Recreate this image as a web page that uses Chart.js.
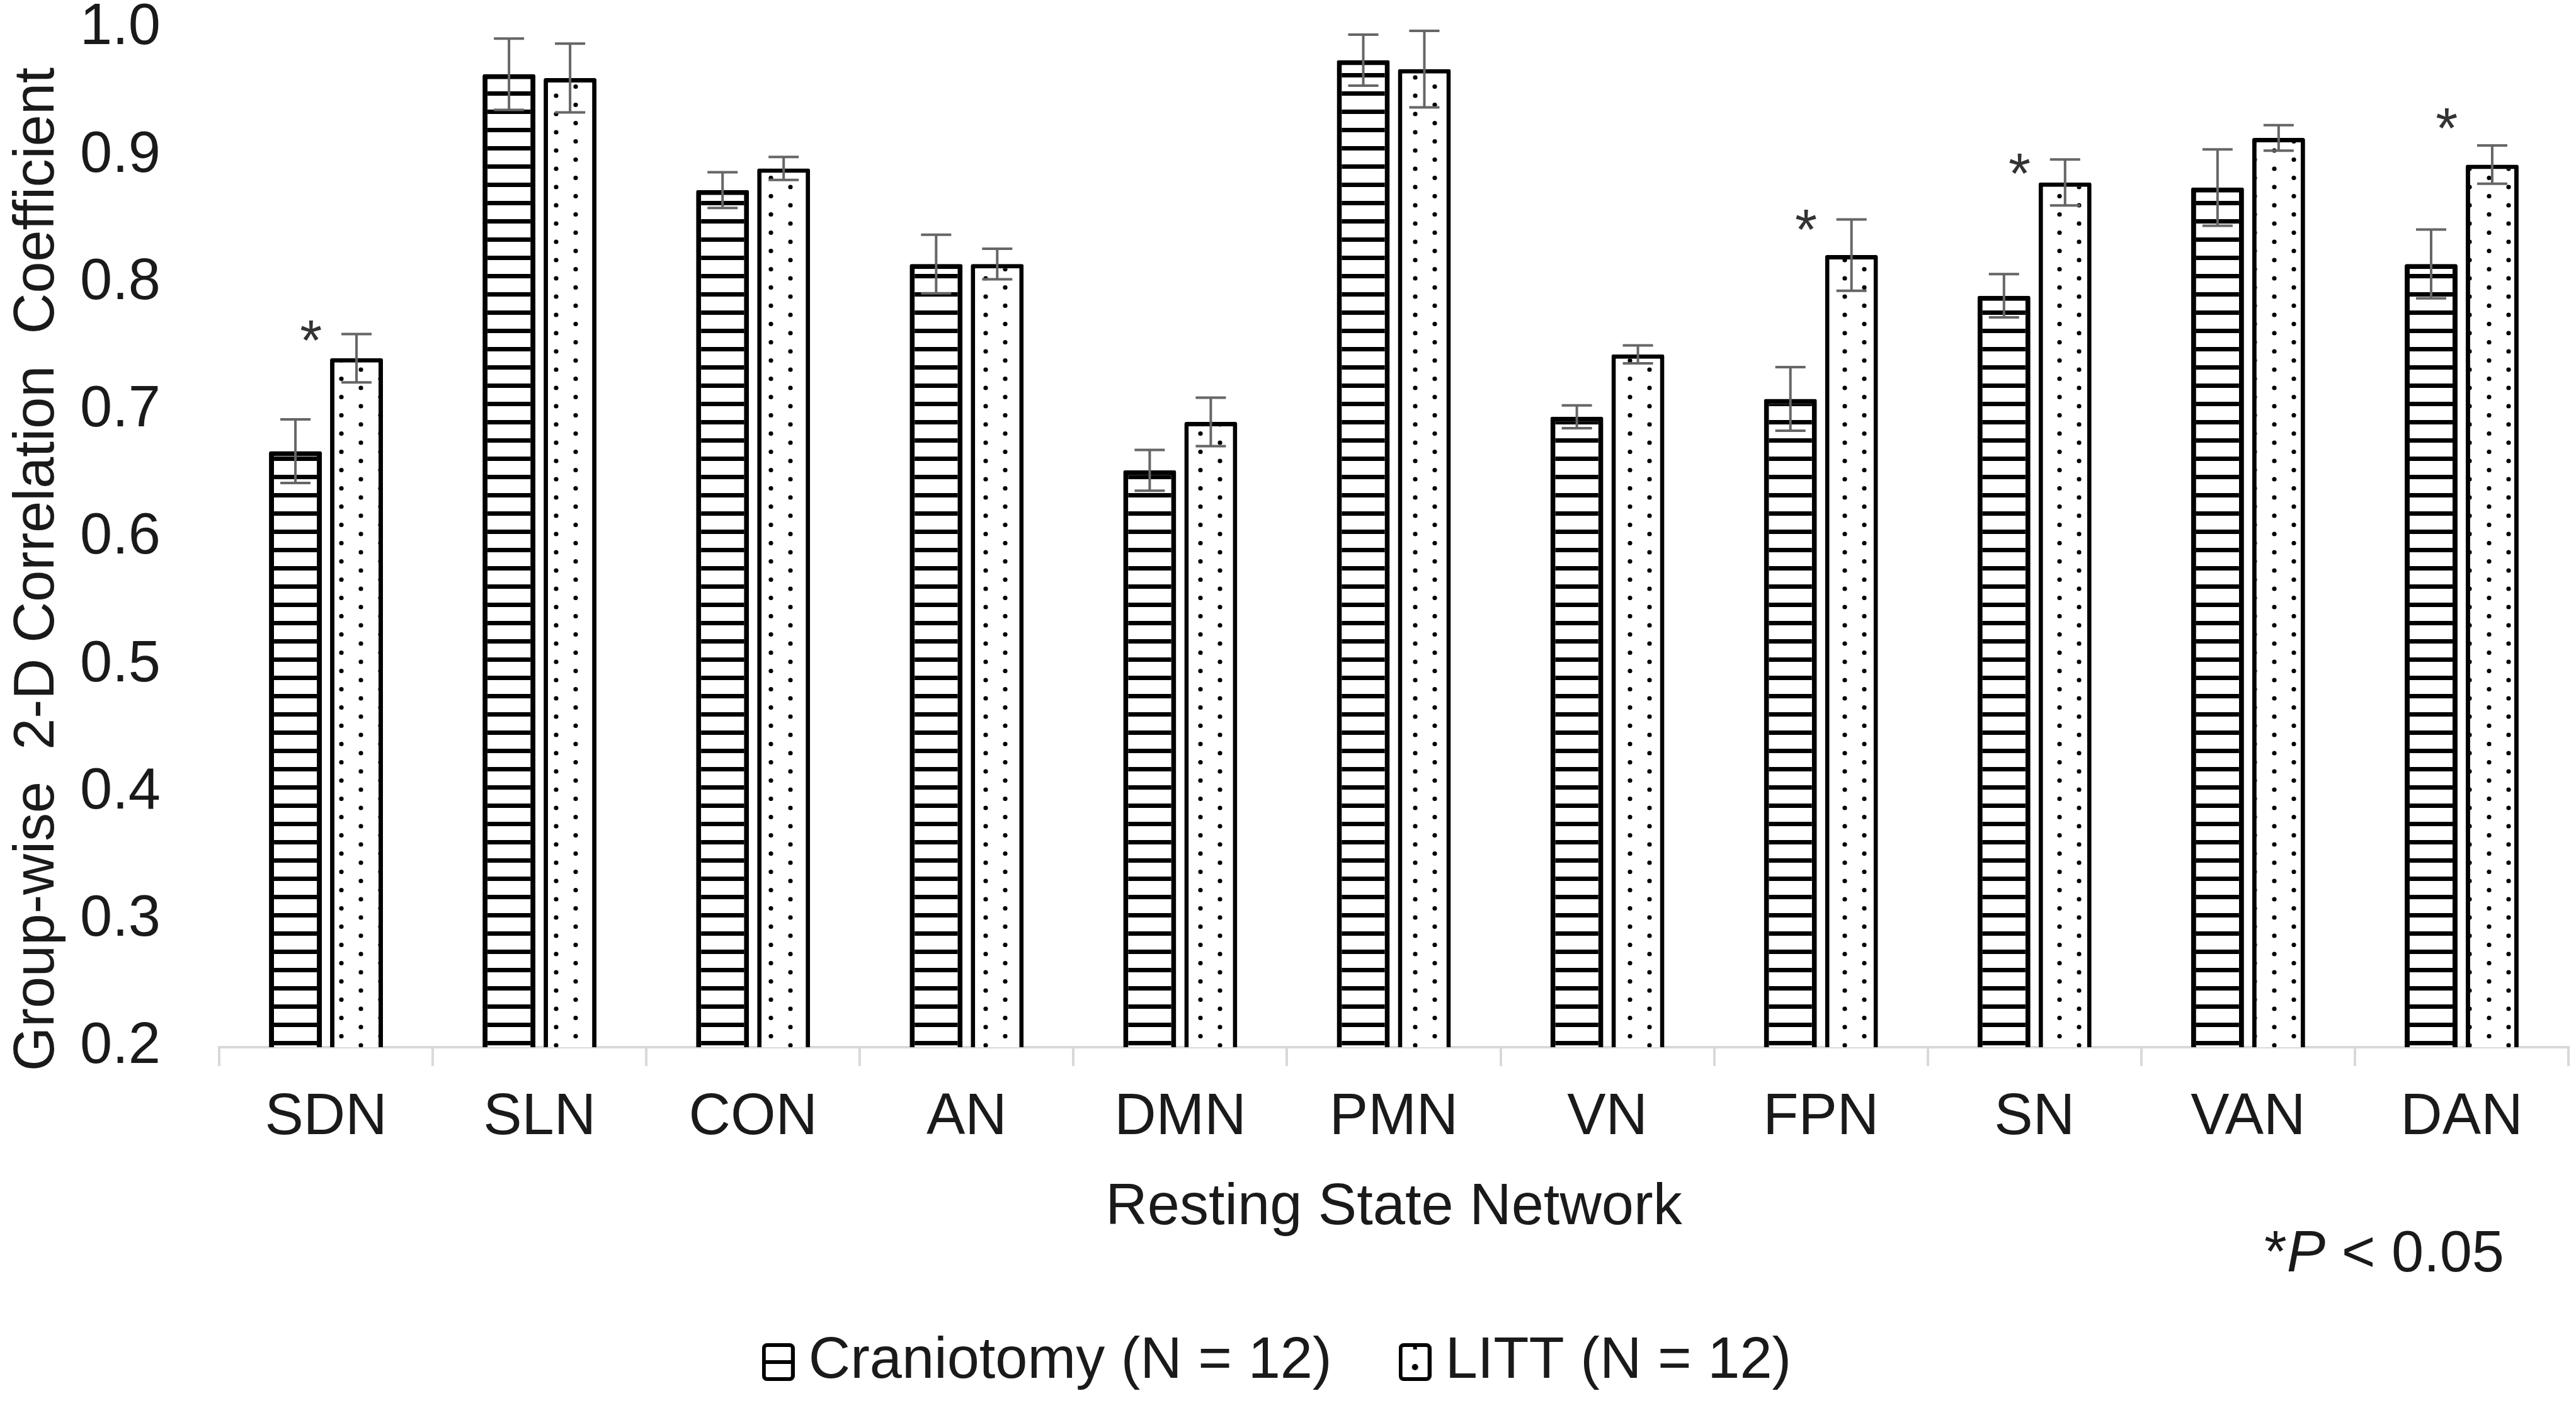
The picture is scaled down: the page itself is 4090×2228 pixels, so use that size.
<!DOCTYPE html>
<html>
<head>
<meta charset="utf-8">
<title>Group-wise 2-D Correlation Coefficient</title>
<script src="https://cdn.jsdelivr.net/npm/chart.js@4.4.1/dist/chart.umd.min.js"></script>
<style>
  html, body { margin: 0; padding: 0; background: #fff; }
  #wrap { width: 4090px; height: 2228px; }
</style>
</head>
<body>
<div id="wrap"><canvas id="corrChart" width="4090" height="2228"></canvas></div>
<script>
// Dados
const networks = ["SDN", "SLN", "CON", "AN", "DMN", "PMN", "VN", "FPN", "SN", "VAN", "DAN"];
const craniotomy = [0.668, 0.964, 0.873, 0.815, 0.653, 0.975, 0.695, 0.709, 0.790, 0.875, 0.815];
const craniotomyErr = [0.025, 0.028, 0.014, 0.023, 0.016, 0.020, 0.009, 0.025, 0.017, 0.030, 0.027];
const litt = [0.741, 0.961, 0.890, 0.815, 0.691, 0.968, 0.744, 0.822, 0.879, 0.914, 0.893];
const littErr = [0.019, 0.027, 0.009, 0.012, 0.019, 0.030, 0.007, 0.028, 0.018, 0.010, 0.015];
// posição (valor) dos asteriscos de significância
const significance = [0.765, null, null, null, null, null, null, 0.852, 0.896, null, 0.932];
const yTicks = [0.2, 0.3, 0.4, 0.5, 0.6, 0.7, 0.8, 0.9, 1.0];

const FONT = '"Liberation Sans", Arial, sans-serif';
const canvas = document.getElementById("corrChart");
const ctx = canvas.getContext("2d");

// Texturas das barras
const makeTile = (w, h, draw) => {
  const c = document.createElement("canvas");
  c.width = w; c.height = h;
  const g = c.getContext("2d");
  g.fillStyle = "#fff";
  g.fillRect(0, 0, w, h);
  g.fillStyle = "#000";
  draw(g);
  return c;
};
const stripes = ctx.createPattern(makeTile(8, 29, g => g.fillRect(0, 0, 8, 7)), "repeat");
const dots = ctx.createPattern(makeTile(62, 29, g => {
  g.beginPath(); g.arc(15, 7, 3.6, 0, Math.PI * 2); g.fill();
  g.beginPath(); g.arc(46, 21.5, 3.6, 0, Math.PI * 2); g.fill();
}), "repeat");

// Ícones da legenda
const makeIcon = (inner) => {
  const c = document.createElement("canvas");
  c.width = 52; c.height = 60;
  const g = c.getContext("2d");
  g.fillStyle = "#fff";
  g.fillRect(3, 3, 46, 54);
  g.strokeStyle = "#000";
  g.lineWidth = 6;
  g.beginPath(); g.roundRect(3, 3, 46, 54, 5); g.stroke();
  g.fillStyle = "#000";
  inner(g);
  return c;
};
const legendIcons = [
  makeIcon(g => g.fillRect(3, 27, 46, 6)),
  makeIcon(g => {
    g.beginPath(); g.arc(26, 38, 5, 0, Math.PI * 2); g.fill();
    g.fillRect(23, 5, 6, 5);
  })
];

// Barras de erro
const errorBars = {
  id: "errorBars",
  afterDatasetsDraw(chart) {
    const { ctx, scales: { y } } = chart;
    const cap = 24;
    ctx.save();
    ctx.strokeStyle = "#666";
    ctx.lineWidth = 4;
    chart.data.datasets.forEach((ds, di) => {
      chart.getDatasetMeta(di).data.forEach((bar, i) => {
        const top = y.getPixelForValue(ds.data[i] + ds.errors[i]);
        const bot = y.getPixelForValue(ds.data[i] - ds.errors[i]);
        ctx.beginPath();
        ctx.moveTo(bar.x, top); ctx.lineTo(bar.x, bot);
        ctx.moveTo(bar.x - cap, top); ctx.lineTo(bar.x + cap, top);
        ctx.moveTo(bar.x - cap, bot); ctx.lineTo(bar.x + cap, bot);
        ctx.stroke();
      });
    });
    ctx.restore();
  }
};

// Asteriscos e nota *P < 0.05
const notes = {
  id: "notes",
  afterDraw(chart) {
    const { ctx, chartArea, scales: { x, y } } = chart;
    const step = x.getPixelForValue(1) - x.getPixelForValue(0);
    ctx.save();
    ctx.fillStyle = "#333";
    ctx.font = `90px ${FONT}`;
    ctx.textAlign = "center";
    ctx.textBaseline = "alphabetic";
    significance.forEach((v, i) => {
      if (v === null) return;
      ctx.fillText("*", x.getPixelForValue(i) - step * 0.07, y.getPixelForValue(v) + 52);
    });

    const right = chartArea.right - 102;
    const base = chartArea.bottom + 356;
    ctx.fillStyle = "#1a1a1a";
    ctx.textAlign = "left";
    ctx.font = `92px ${FONT}`;
    const rest = " < 0.05";
    const star = "*";
    const wRest = ctx.measureText(rest).width;
    const wStar = ctx.measureText(star).width;
    ctx.font = `italic 92px ${FONT}`;
    const wP = ctx.measureText("P").width;
    let cx = right - wRest - wP - wStar;
    ctx.font = `92px ${FONT}`;
    ctx.fillText(star, cx, base);
    cx += wStar;
    ctx.font = `italic 92px ${FONT}`;
    ctx.fillText("P", cx, base);
    cx += wP;
    ctx.font = `92px ${FONT}`;
    ctx.fillText(rest, cx, base);
    ctx.restore();
  }
};

const chart = new Chart(canvas, {
  type: "bar",
  data: {
    labels: networks,
    datasets: [
      {
        label: "Craniotomy (N = 12)",
        data: craniotomy,
        errors: craniotomyErr,
        backgroundColor: stripes,
        borderColor: "#000",
        borderWidth: 8,
        borderRadius: 3
      },
      {
        label: "LITT (N = 12)",
        data: litt,
        errors: littErr,
        backgroundColor: dots,
        borderColor: "#000",
        borderWidth: 7,
        borderRadius: 3
      }
    ]
  },
  options: {
    responsive: false,
    animation: false,
    devicePixelRatio: 1,
    events: [],
    categoryPercentage: 0.572,
    barPercentage: 0.866,
    layout: { padding: { top: 45, left: 0, right: 12, bottom: 9 } },
    scales: {
      x: {
        grid: { drawOnChartArea: false, drawTicks: true, tickLength: 30, color: "#d9d9d9", lineWidth: 4 },
        border: { display: true, color: "#d9d9d9", width: 4 },
        ticks: { color: "#1a1a1a", font: { family: FONT, size: 92 }, padding: 27, maxRotation: 0 },
        title: {
          display: true,
          text: "Resting State Network",
          color: "#1a1a1a",
          font: { family: FONT, size: 92 },
          padding: { top: 0, bottom: 13 }
        },
        afterFit: s => { s.height = 324; s.paddingLeft = 0; s.paddingRight = 0; }
      },
      y: {
        min: 0.2,
        max: 1.0,
        afterBuildTicks: s => { s.ticks = yTicks.map(v => ({ value: v })); },
        grid: { display: false, drawTicks: false },
        border: { display: false },
        ticks: {
          color: "#1a1a1a",
          font: { family: FONT, size: 92 },
          padding: 93,
          callback: v => v.toFixed(1)
        },
        title: {
          display: true,
          text: "Group-wise  2-D Correlation  Coefficient    ",
          color: "#1a1a1a",
          font: { family: FONT, size: 90 },
          padding: { top: 6, bottom: 0 }
        },
        afterFit: s => { s.width = 348; s.paddingTop = 0; s.paddingBottom = 0; }
      }
    },
    plugins: {
      tooltip: { enabled: false },
      legend: {
        position: "bottom",
        labels: {
          color: "#1a1a1a",
          font: { family: FONT, size: 92 },
          padding: 130,
          usePointStyle: true,
          pointStyleWidth: 4,
          boxHeight: 60,
          generateLabels: c => c.data.datasets.map((ds, i) => ({
            text: ds.label,
            pointStyle: legendIcons[i],
            fillStyle: "#fff",
            strokeStyle: "#000",
            lineWidth: 0,
            fontColor: "#1a1a1a",
            hidden: false,
            datasetIndex: i
          }))
        }
      }
    }
  },
  plugins: [errorBars, notes]
});
</script>
</body>
</html>
